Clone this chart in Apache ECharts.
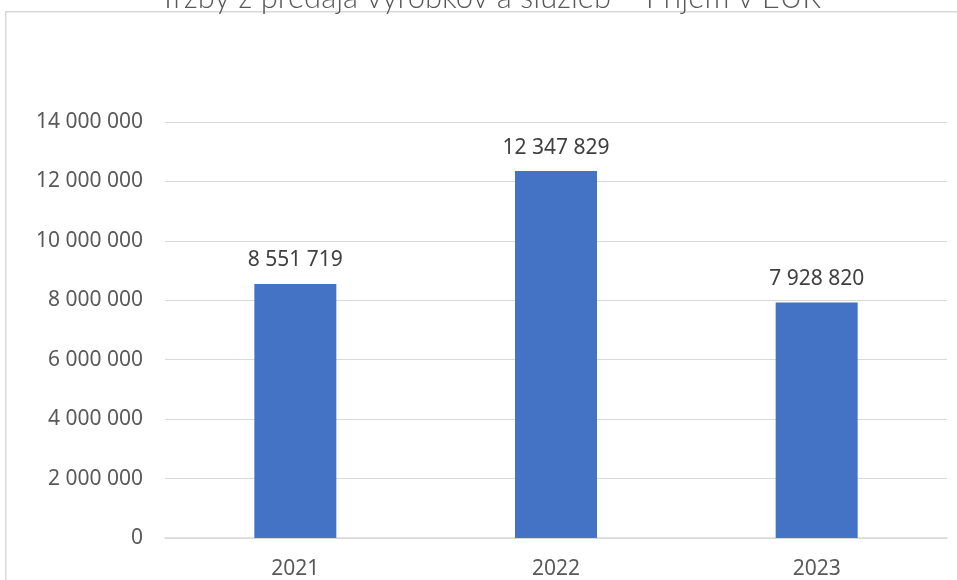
<!DOCTYPE html>
<html><head><meta charset="utf-8">
<script src="https://cdn.jsdelivr.net/npm/echarts@6/dist/echarts.min.js"></script>
<style>html,body{margin:0;padding:0;background:#fff}#c{width:957px;height:580px}</style>
</head><body><div id="c"></div>
<script>
const title = 'Tržby z predaja výrobkov a služieb – Príjem v EUR';
const categories = ['2021', '2022', '2023'];
const values = [8551719, 12347829, 7928820];
const yTicks = { min: 0, max: 14000000, interval: 2000000 };

function fmt(v){ return String(v).replace(/\B(?=(\d{3})+(?!\d))/g, ' '); }

const chart = echarts.init(document.getElementById('c'), null, {renderer:'canvas'});
chart.setOption({
  animation: false,
  backgroundColor: '#fff',
  graphic: [{
    type: 'rect', left: 5, top: 11, z: -1,
    shape: { width: 970, height: 600 },
    style: { fill: '#fff', stroke: '#d9d9d9', lineWidth: 1.5 }
  }],
  title: {
    text: title, left: 490, textAlign: 'center', top: -18, padding: 0,
    textStyle: { fontFamily: 'Lato', fontWeight: 300, fontSize: 31, color: '#595959' }
  },
  grid: { left: 165, right: 10, top: 122, bottom: 42, containLabel: false },
  xAxis: {
    type: 'category', data: categories,
    axisLine: { lineStyle: { color: '#d9d9d9', width: 1.5 } },
    axisTick: { show: false },
    axisLabel: { color: '#595959', fontFamily: 'Noto Sans', fontSize: 21, margin: 21 }
  },
  yAxis: {
    type: 'value', min: yTicks.min, max: yTicks.max, interval: yTicks.interval,
    axisLine: { show: false }, axisTick: { show: false },
    splitLine: { lineStyle: { color: '#d9d9d9', width: 1 } },
    axisLabel: { color: '#595959', fontFamily: 'Noto Sans', fontSize: 21, margin: 22, formatter: fmt }
  },
  series: [{
    type: 'bar', data: values, barWidth: 82,
    itemStyle: { color: '#4472c4' },
    label: { show: true, position: 'top', distance: 13, color: '#404040', fontFamily: 'Noto Sans', fontSize: 21, formatter: p => fmt(p.value) }
  }]
});
</script></body></html>
